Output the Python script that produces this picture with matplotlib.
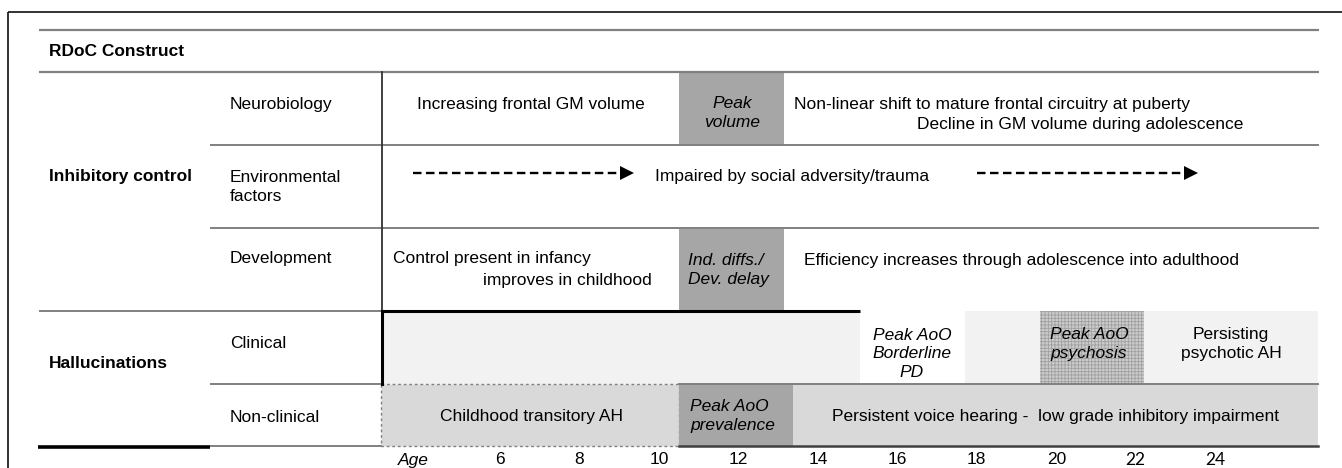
import matplotlib
matplotlib.use("Agg")
import matplotlib.pyplot as plt
from matplotlib.patches import Rectangle
from matplotlib.transforms import Affine2D

plt.rcParams["font.family"] = ["Liberation Sans", "DejaVu Sans"]
plt.rcParams["hatch.linewidth"] = 0.6

# ---- data (ages in years) ----
age_ticks = [6, 8, 10, 12, 14, 16, 18, 20, 22, 24]
timeline = (3.0, 26.6)

constructs = ["Inhibitory control", "Hallucinations"]
domains = ["Neurobiology", "Environmental\nfactors", "Development", "Clinical", "Non-clinical"]

peak_gm_volume = (10.5, 13.15)
ind_diffs = (10.5, 13.15)
childhood_ah = (3.0, 10.5)
peak_aoo_prevalence = (10.5, 13.37)
persistent_vh = (13.37, 26.6)
clinical_onset = 15.05
peak_aoo_bpd = (15.05, 17.7)
peak_aoo_psychosis = (19.6, 22.2)

# pixel -> age scale used by the original figure
PX_PER_YEAR = 39.73
X_AT_15 = 857.6

fig = plt.figure(figsize=(13.42, 4.68), dpi=100)
ax = fig.add_axes([0, 0, 1, 1])
ax.set_xlim(0, 1342)
ax.set_ylim(468, 0)
ax.axis("off")

t_age = Affine2D().scale(PX_PER_YEAR, 1).translate(X_AT_15 - 15 * PX_PER_YEAR, 0) + ax.transData

FS = 12.5
LS = 1.32
GRID = "#808080"
DARK_BOX = "#a6a6a6"
MID_BOX = "#d9d9d9"
LIGHT_BOX = "#f2f2f2"

def age_box(span, y0, y1, **kw):
    r = Rectangle((span[0], y0), span[1] - span[0], y1 - y0, transform=t_age, **kw)
    ax.add_patch(r)
    return r

def hline(y, x0, x1, **kw):
    ax.plot([x0, x1], [y, y], solid_capstyle="butt", **kw)

# outer frame
ax.add_patch(Rectangle((8, 12), 1400, 500, fill=False, lw=1.3, ec="#222222", clip_on=False))

# ---- boxes ----
age_box(peak_gm_volume, 73, 145, fc=DARK_BOX, lw=0)
age_box(ind_diffs, 229, 310, fc=DARK_BOX, lw=0)

age_box(timeline, 311, 384, fc=LIGHT_BOX, lw=0)
age_box(peak_aoo_bpd, 311, 384, fc="white", lw=0)
age_box(peak_aoo_psychosis, 311, 384, fc="#cccccc", hatch="+++++", ec="#a0a0a0", lw=0)

age_box(childhood_ah, 384, 446, fc=MID_BOX, ec=GRID, lw=1.0, ls=(0, (2, 2)))
age_box(peak_aoo_prevalence, 384, 446, fc=DARK_BOX, lw=0)
age_box(persistent_vh, 384, 446, fc=MID_BOX, lw=0)
ax.plot([peak_aoo_prevalence[0], persistent_vh[1]], [384, 384], color=GRID, lw=1.4, transform=t_age)
ax.plot([peak_aoo_prevalence[0], persistent_vh[1]], [446, 446], color="#404040", lw=1.8, transform=t_age)

# ---- rules ----
hline(30, 39, 1319, color=GRID, lw=1.6)
hline(72, 39, 1319, color=GRID, lw=1.6)
hline(145, 210, 1319, color=GRID, lw=1.4)
hline(228, 210, 1319, color=GRID, lw=1.4)
hline(311, 39, 382, color=GRID, lw=1.4)
hline(384, 210, 382, color=GRID, lw=1.4)
hline(446, 210, 382, color=GRID, lw=1.4)
hline(447, 38, 210, color="black", lw=2.6)
ax.plot([382, 382], [72, 311], color="#333333", lw=1.3)
ax.plot([382, 382], [311, 384], color="black", lw=2.2)
ax.plot([timeline[0], clinical_onset], [311, 311], color="black", lw=2.2,
        transform=t_age, solid_capstyle="butt")

# dashed arrows
for xa, xb in [(413, 623), (977, 1187)]:
    ax.plot([xa, xb], [173, 173], color="black", lw=1.7, ls=(0, (3.6, 1.9)))
    ax.plot(xb + 4, 173, marker=">", ms=10, color="black", mew=0)

# ---- left column text ----
ax.text(49, 52, "RDoC Construct", fontsize=FS, fontweight="bold", va="center")
ax.text(49, 177, constructs[0], fontsize=FS, fontweight="bold", va="center")
ax.text(49, 363, constructs[1], fontsize=FS, fontweight="bold", va="center")
for y, lab in zip([105, 187, 258, 343, 417], domains):
    ax.text(230, y, lab, fontsize=FS, va="center", linespacing=LS)

# ---- timeline text ----
ax.text(531, 104, "Increasing frontal GM volume", fontsize=FS, ha="center", va="center")
ax.text(732, 113, "Peak\nvolume", fontsize=FS, style="italic", ha="center", va="center",
        linespacing=LS)
ax.text(794, 104, "Non-linear shift to mature frontal circuitry at puberty", fontsize=FS, va="center")
ax.text(1243, 125, "Decline in GM volume during adolescence", fontsize=FS, ha="right", va="center")

ax.text(792, 177, "Impaired by social adversity/trauma", fontsize=FS, ha="center", va="center")

ax.text(393, 259, "Control present in infancy", fontsize=FS, va="center")
ax.text(652, 281, "improves in childhood", fontsize=FS, ha="right", va="center")
ax.text(688, 270, "Ind. diffs./\nDev. delay", fontsize=FS, style="italic", va="center",
        linespacing=LS)
ax.text(804, 260, "Efficiency increases through adolescence into adulthood", fontsize=FS, va="center")

ax.text(912, 354, "Peak AoO\nBorderline\nPD", fontsize=FS, style="italic", ha="center",
        va="center", multialignment="center", linespacing=LS)
ax.text(1050, 344, "Peak AoO\npsychosis", fontsize=FS, style="italic", va="center", linespacing=LS)
ax.text(1231, 344, "Persisting\npsychotic AH", fontsize=FS, ha="center", va="center",
        multialignment="center", linespacing=LS)

ax.text(531, 416, "Childhood transitory AH", fontsize=FS, ha="center", va="center")
ax.text(690, 416, "Peak AoO\nprevalence", fontsize=FS, style="italic", va="center", linespacing=LS)
ax.text(1056, 416, "Persistent voice hearing -  low grade inhibitory impairment", fontsize=FS,
        ha="center", va="center")

# ---- age axis ----
ax.text(413, 460, "Age", fontsize=FS, style="italic", ha="center", va="center")
for a in age_ticks:
    fam = ["Lato", "DejaVu Sans"] if a >= 22 else ["Liberation Sans", "DejaVu Sans"]
    ax.text(a, 460, str(a), fontsize=FS, ha="center", va="center", family=fam, transform=t_age)

fig.savefig("out.png", dpi=100)
